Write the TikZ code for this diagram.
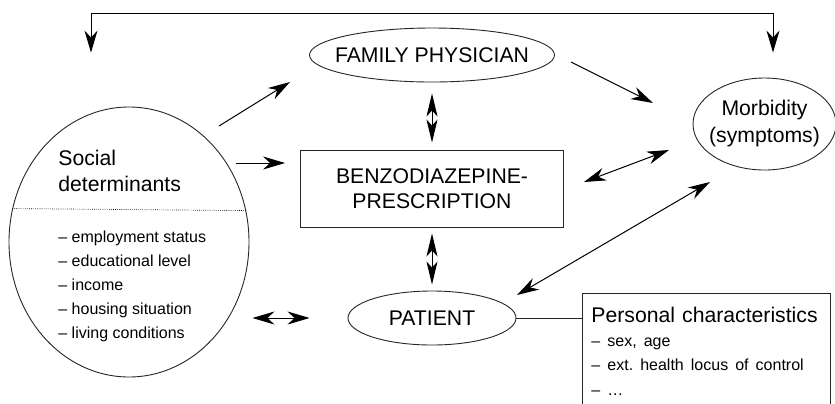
\documentclass[tikz,border=0pt]{standalone}
\usepackage{fontspec}
\setmainfont{Liberation Sans}
\usetikzlibrary{arrows.meta,calc,positioning,shapes.geometric}
\frenchspacing
\tikzset{
  >={Stealth[length=11pt,width=6.5pt,inset=3.5pt]},
  oval/.style={
    ellipse,
    draw=black!85,
    line width=0.45pt,
    inner sep=0pt,
    align=center,
    font=\fontsize{10.6}{13.5}\selectfont
  },
  boxnode/.style={
    rectangle,
    draw=black!85,
    line width=0.45pt,
    align=center,
    font=\fontsize{10.6}{12.5}\selectfont
  },
  headtext/.style={font=\fontsize{10.6}{13}\selectfont, align=left, inner sep=0pt},
  itemlist/.style={font=\fontsize{8}{12}\selectfont, align=left, inner sep=0pt},
  flow/.style={line width=0.5pt, ->},
  mutual/.style={line width=0.5pt, <->},
  narrow/.style={>={Stealth[length=11.5pt,width=5.5pt,inset=3pt]}},
  divider/.style={line width=0.35pt, dash pattern=on 0.35pt off 0.7pt},
  link/.style={line width=0.45pt, draw=black!85}
}

\begin{document}
\begin{tikzpicture}[x=0.5pt,y=-0.5pt]
\useasboundingbox (0,0) rectangle (835,403);

\node[oval, minimum width=122.5pt, minimum height=27pt, inner xsep=-8pt] (family) at (432,55) {FAMILY PHYSICIAN};
\node[boxnode, minimum width=131.5pt, minimum height=38.5pt] (benzo) at (432,188.5) {BENZODIAZEPINE-\\PRESCRIPTION};
\node[oval, minimum width=84pt, minimum height=27pt] (patient) at (432,318) {PATIENT};
\node[oval, minimum width=71.5pt, minimum height=46pt, inner xsep=-6pt] (morb) at (764.5,124) {Morbidity\\(symptoms)};

% social determinants: ellipse with heading, divider and list
\node[oval, minimum width=120pt, minimum height=135pt] (social) at (129,242) {};
\node[headtext, anchor=north west] (socialhead) at (58,150) {Social\\determinants};
\draw[divider] (social.164.2) -- (social.15.8);
\node[itemlist, anchor=north west] (sociallist) at (58,230)
  {– employment status\\– educational level\\– income\\– housing situation\\– living conditions};

\node[boxnode, anchor=north west, align=left, text width=115pt, inner xsep=4.5pt, inner ysep=7pt] (personal) at (582,293)
  {\fontsize{10.6}{12}\selectfont Personal characteristics\\
   \fontsize{8}{12}\selectfont – sex, age\\– ext. health locus of control\\– \dots};

\draw[flow] ($(social)+(90,-116)$) -- ($(family)+(-142,27)$);
\draw[flow] ($(social)+(107,-79)$) -- ($(benzo.west)+(-15,-25.5)$);
\draw[flow] ($(family)+(139,7)$) -- ($(morb)+(-111.5,-21)$);
\draw[mutual, narrow, shorten <=5.5pt, shorten >=3.5pt] (family.south) -- (benzo.north);
\draw[mutual, narrow, shorten <=3pt, shorten >=3pt] (benzo.south) -- (patient.north);
\draw[mutual] ($(benzo.east)+(20,-6.5)$) -- ($(morb)+(-95.5,26)$);
\draw[mutual] ($(patient)+(85,-23)$) -- ($(morb)+(-54.5,58)$);
\draw[mutual, shorten <=1.5pt, shorten >=19pt] (social.east |- patient.west) -- (patient.west);
\draw[link] (patient.east) -- (patient.east -| personal.west);

% feedback loop across the top
\draw[mutual] ($(social.north)+(-38,-54)$) -- ++(0,-39) -| ($(morb.north)+(8.5,-25)$);
\end{tikzpicture}
\end{document}
